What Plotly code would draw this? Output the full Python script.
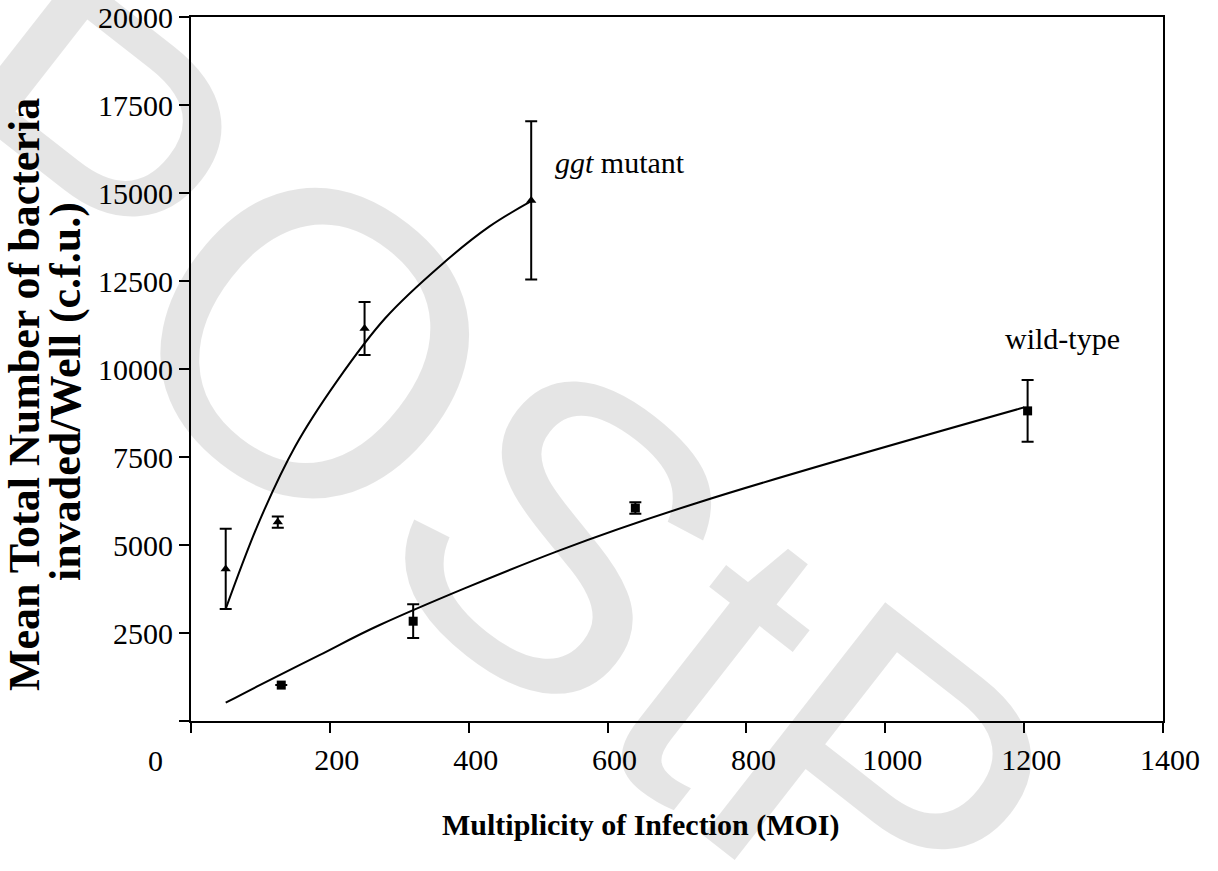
import plotly.graph_objects as go

# ---- data ----
mutant_moi = [50, 125, 250, 490]
mutant_mean = [4320, 5650, 11150, 14790]
mutant_sd = [1140, 160, 755, 2245]

wild_moi = [130, 320, 640, 1205]
wild_mean = [1020, 2835, 6050, 8810]
wild_sd = [0, 480, 165, 875]

# trend lines
mutant_fit_moi = [50, 99, 150, 210, 280, 360, 430, 490]
mutant_fit_val = [3183, 5700, 7800, 9650, 11450, 12950, 14050, 14767]
wild_fit_moi = [50, 99, 185, 271, 531, 732, 1200]
wild_fit_val = [519, 1020, 1870, 2720, 4847, 6216, 8910]

x_ticks = [0, 200, 400, 600, 800, 1000, 1200, 1400]
y_ticks = [0, 2500, 5000, 7500, 10000, 12500, 15000, 17500, 20000]

SERIF = "Liberation Serif, Times New Roman, serif"

fig = go.Figure()

fig.add_trace(go.Scatter(x=mutant_fit_moi, y=mutant_fit_val, mode="lines",
                         line=dict(color="black", width=2, shape="spline"),
                         showlegend=False, hoverinfo="skip"))
fig.add_trace(go.Scatter(x=wild_fit_moi, y=wild_fit_val, mode="lines",
                         line=dict(color="black", width=2, shape="spline"),
                         showlegend=False, hoverinfo="skip"))

fig.add_trace(go.Scatter(x=mutant_moi, y=mutant_mean, mode="markers", name="ggt mutant",
                         marker=dict(symbol="triangle-up", size=9, color="black"),
                         error_y=dict(type="data", array=mutant_sd, color="black",
                                      thickness=2, width=6),
                         showlegend=False))
fig.add_trace(go.Scatter(x=wild_moi, y=wild_mean, mode="markers", name="wild-type",
                         marker=dict(symbol="square", size=9, color="black"),
                         error_y=dict(type="data", array=wild_sd, color="black",
                                      thickness=2, width=6),
                         showlegend=False))

axis_common = dict(showline=True, linecolor="black", linewidth=2, mirror=True,
                   ticks="outside", ticklen=10, tickwidth=2, tickcolor="black",
                   showgrid=False, zeroline=False, automargin=False,
                   tickfont=dict(family=SERIF, size=30, color="black"))

fig.update_xaxes(range=[0, 1400], tickvals=x_ticks,
                 ticktext=["" if v == 0 else str(v) for v in x_ticks],
                 ticklabelstandoff=1, ticklabelshift=7, **axis_common)
fig.update_yaxes(range=[0, 20000], tickvals=y_ticks,
                 ticktext=["" if v == 0 else str(v) for v in y_ticks],
                 ticklabelstandoff=0, **axis_common)

W, H, L, R, T, B = 1218, 871, 191, 55, 17, 150
pw, ph = W - L - R, H - T - B


def px(xp, yp):
    """pixel position -> paper coordinates"""
    return (xp - L) / pw, (H - B - yp) / ph


wm_x, wm_y = px(475, 468)
t0_x, t0_y = px(25, 395)
t1_x, t1_y = px(65, 392)
xt_x, xt_y = px(640, 825)

annotations = [
    # watermark
    dict(text="POStP", xref="paper", yref="paper", x=wm_x, y=wm_y,
         xanchor="center", yanchor="middle",
         showarrow=False, textangle=38,
         font=dict(family="Liberation Sans, Arial, sans-serif", size=430,
                   color="rgba(0,0,0,0.1)")),
    dict(text="0", xref="x", yref="y", x=0, y=0, xshift=-36, yshift=-39,
         showarrow=False, font=dict(family=SERIF, size=30, color="black")),
    dict(text="<i>ggt</i> mutant", xref="x", yref="y", x=521, y=15873,
         xanchor="left", yanchor="middle", showarrow=False,
         font=dict(family=SERIF, size=30, color="black")),
    dict(text="wild-type", xref="x", yref="y", x=1170, y=10856,
         xanchor="left", yanchor="middle", showarrow=False,
         font=dict(family=SERIF, size=30, color="black")),
    dict(text="<b>Multiplicity of Infection (MOI)</b>", xref="paper", yref="paper",
         x=xt_x, y=xt_y, xanchor="center", yanchor="middle", showarrow=False,
         font=dict(family=SERIF, size=30, color="black")),
    dict(text="<b>Mean Total Number of bacteria</b>", xref="paper", yref="paper",
         x=t0_x, y=t0_y, xanchor="center", yanchor="middle", showarrow=False,
         textangle=-90, font=dict(family=SERIF, size=44, color="black")),
    dict(text="<b>invaded/Well (c.f.u.)</b>", xref="paper", yref="paper",
         x=t1_x, y=t1_y, xanchor="center", yanchor="middle", showarrow=False,
         textangle=-90, font=dict(family=SERIF, size=44, color="black")),
]

fig.update_layout(width=W, height=H, autosize=False,
                  margin=dict(l=L, r=R, t=T, b=B, pad=0),
                  paper_bgcolor="white", plot_bgcolor="white",
                  showlegend=False, annotations=annotations)

fig.write_html("out.html")
